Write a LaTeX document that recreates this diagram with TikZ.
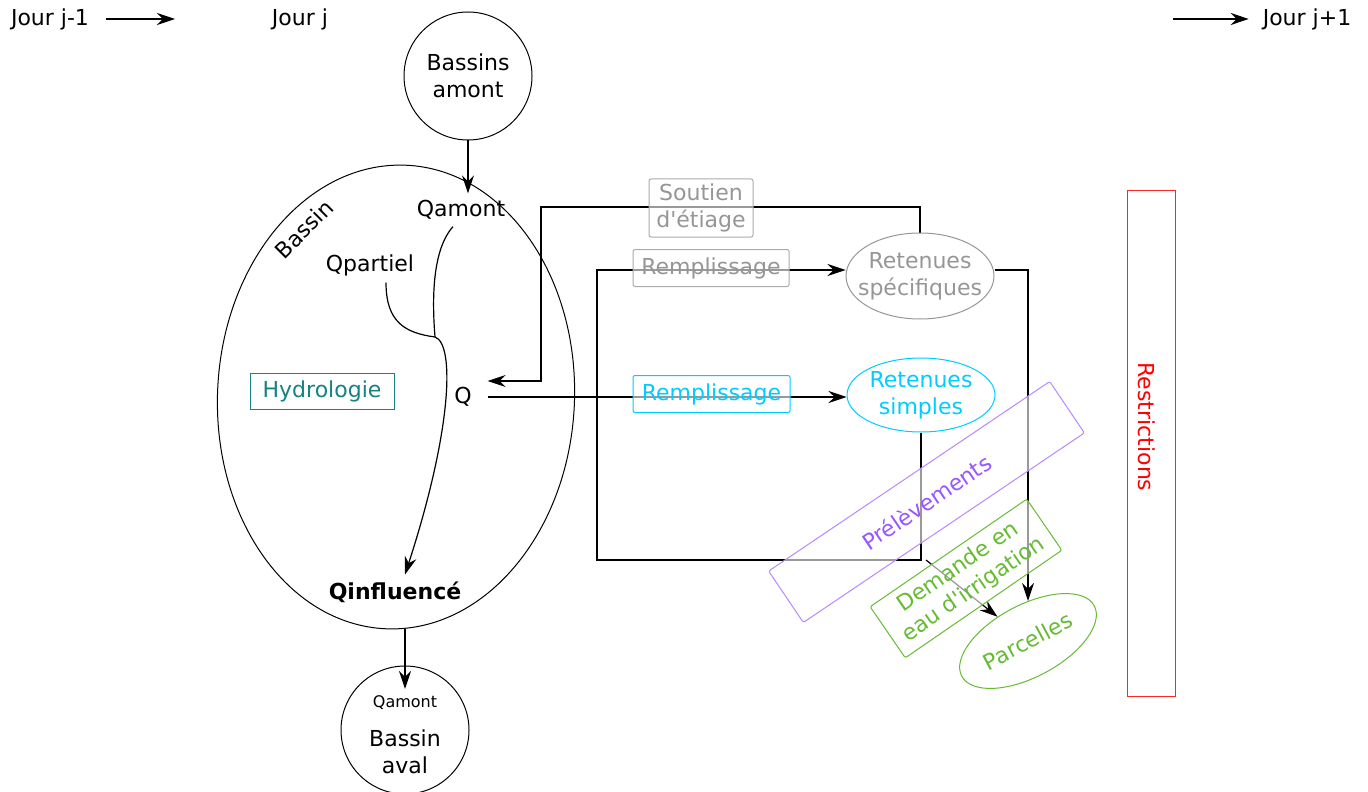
\documentclass[tikz,border=0pt]{standalone}
\usepackage{fontspec}
\newfontfamily\djv{DejaVu Sans}
\usepackage{tikz}
\usetikzlibrary{arrows.meta,positioning,shapes.geometric,backgrounds}
\definecolor{cgris}{RGB}{150,150,150}
\definecolor{ccyan}{RGB}{0,204,255}
\definecolor{cteal}{RGB}{22,130,130}
\definecolor{cviolet}{RGB}{153,85,255}
\definecolor{cvert}{RGB}{102,187,51}
\definecolor{crouge}{RGB}{255,0,0}

\begin{document}
\begin{tikzpicture}[x=0.5pt,y=-0.5pt,
  every node/.style={font=\djv\fontsize{11}{13.5}\selectfont},
  boite/.style={draw, fill=white, fill opacity=0.6, text opacity=1, rounded corners=1pt, align=center, line width=0.5pt},
  rond/.style={circle, draw, minimum size=64pt, inner sep=0pt, line width=0.5pt},
  ovale/.style={ellipse, draw, inner sep=0pt, line width=0.5pt},
  flux/.style={-{Stealth[length=9pt,width=6pt,inset=3pt]}, line width=0.6pt},
  trait/.style={line width=0.6pt}]
  \useasboundingbox (0,0) rectangle (1368,791);

  % jours
  \node (jm1) at (50,19) {Jour j-1};
  \node (jj) at (300,19) {Jour j};
  \node (jp1) at (1307,19) {Jour j+1};
  \coordinate (fj1) at (175,19);
  \coordinate (dj2) at (1173,19);

  % bassins
  \node[rond, align=center] (bamont) at (468,76) {Bassins\\amont};
  \node[ovale, minimum width=178.5pt, minimum height=232pt, rotate=-2.5] (bassin) at (396,397) {};
  \node[rotate=45] at (304,229) {Bassin};
  \node (qamont) at (461,210) {Qamont};
  \node (qpart) at (370,265) {Qpartiel};
  \node[inner xsep=7.75pt] (q) at (463,397) {Q};
  \node[font=\djv\fontsize{11}{13.5}\selectfont\bfseries] (qinf) at (395,592) {Qinfluencé};
  \node[draw=cteal, text=cteal, minimum width=72pt, minimum height=18pt, line width=0.5pt] (hydro) at (322,391) {Hydrologie};
  \coordinate (jn) at (435,337);

  \node[rond] (baval) at (405,730) {};
  \node[font=\djv\fontsize{8}{10}\selectfont] (qaval) at (405,703) {Qamont};
  \node[align=center] at (405,752) {Bassin\\aval};

  % retenues
  \node[boite, draw=cgris!80, text=cgris, minimum width=52pt, minimum height=29pt, inner sep=1pt] (soutien) at (701,208) {Soutien\\d'étiage};
  \node[boite, draw=cgris!80, text=cgris, minimum width=78pt, minimum height=18.5pt] (rempl1) at (711,268) {Remplissage};
  \node[boite, draw=ccyan, text=ccyan, minimum width=78.5pt, minimum height=18.5pt] (rempl2) at (711.5,394) {Remplissage};
  \node[ovale, draw=cgris, minimum width=74pt, minimum height=43pt] (rspec) at (920,276) {};
  \node[text=cgris, align=center] at (rspec) {Retenues\\spécifiques};
  \node[ovale, draw=ccyan, minimum width=74pt, minimum height=37pt] (rsimp) at (921,395) {};
  \node[text=ccyan, align=center] at (rsimp) {Retenues\\simples};
  \coordinate (kS) at (541,207);
  \coordinate (kB) at (597,560);
  \coordinate (kC) at (926,560);

  \node[ovale, draw=cvert, text=cvert, rotate=28, minimum width=75pt, minimum height=36pt] (parc) at (1028,641) {Parcelles};

  \node[draw=crouge!85, minimum width=252.5pt, minimum height=24pt, rotate=-90, line width=0.5pt] (restr) at (1151,443.5) {};
  \node[text=crouge, rotate=-90] at (1147,427) {Restrictions};

  \begin{pgfonlayer}{background}
    \draw[flux] (jm1.east) ++(5pt,0) -- (fj1);
    \draw[flux] (dj2) -- ([xshift=-3.5pt]jp1.west);
    \draw[flux] (bamont.south) -- (bamont.south |- qamont.north);
    \draw[trait] ([xshift=-4pt]qamont.south) .. controls (432,250) and (432,300) .. (jn);
    \draw[trait] ([xshift=8pt]qpart.south) .. controls (386,322) and (405,333) .. (jn);
    \draw[flux] (jn) .. controls (455,344) and (452,430) .. ([xshift=5pt]qinf.north);
    \draw[flux] (qaval.north |- bassin.south) -- (qaval.north);
    \draw[flux] (rspec.north) |- (kS) |- ([yshift=8pt]q.east);
    \draw[flux] (q.east) -- (q.east -| rsimp.west);
    \draw[flux] (rsimp.south) |- (kB) |- ([yshift=3pt]rspec.west);
    \draw[flux] (kC) -- (parc);
    \draw[flux] ([yshift=3pt]rspec.east) -| (parc);
  \end{pgfonlayer}

  % usages
  \node[boite, draw=cviolet!70, text=cviolet, rotate=34, minimum width=169.5pt, minimum height=31pt] (prel) at (926.5,502) {Prélèvements};
  \node[boite, draw=cvert, text=cvert, rotate=34.5, minimum width=95pt, minimum height=31pt, inner sep=1pt] (dem) at (966,578.5) {Demande en\\eau d'irrigation};
\end{tikzpicture}
\end{document}
